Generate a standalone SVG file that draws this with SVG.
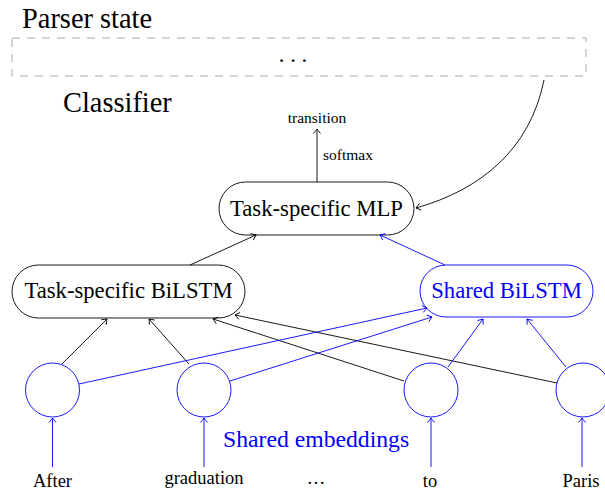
<svg xmlns="http://www.w3.org/2000/svg" width="605" height="490" viewBox="0 0 605 490">
<style>
text{font-family:"Liberation Serif","Times New Roman",serif;fill:#000}
.big{font-size:22.7px}
.head{font-size:28.4px}
.mid{font-size:18.5px}
.sm{font-size:15.5px}
.blue{fill:#0000ff}
.k{stroke:#000;stroke-width:0.9;fill:none}
.b{stroke:#0000ff;stroke-width:0.9;fill:none}
.node{fill:#fff;stroke:#000;stroke-width:0.9}
.bnode{fill:#fff;stroke:#0000ff;stroke-width:0.9}
.ka{marker-end:url(#ah)}
.ba{marker-end:url(#ahb)}
</style>
<defs>
<marker id="ah" markerUnits="userSpaceOnUse" markerWidth="12" markerHeight="12" viewBox="-6 -6 12 12" refX="0" refY="0" orient="auto">
<path d="M-4.5,-3.5 Q-1.2,-0.8 0,0 Q-1.2,0.8 -4.5,3.5" fill="none" stroke="#000" stroke-width="0.9"/>
</marker>
<marker id="ahb" markerUnits="userSpaceOnUse" markerWidth="12" markerHeight="12" viewBox="-6 -6 12 12" refX="0" refY="0" orient="auto">
<path d="M-4.5,-3.5 Q-1.2,-0.8 0,0 Q-1.2,0.8 -4.5,3.5" fill="none" stroke="#0000ff" stroke-width="0.9"/>
</marker>
</defs>
<g id="parser-state">
<text class="head" x="22" y="28">Parser state</text>
<rect x="12" y="38" width="574" height="38" fill="none" stroke="#aaaaaa" stroke-width="1" stroke-dasharray="8 7"/>
<text class="big" x="293" y="62" text-anchor="middle">. . .</text>
</g>
<g id="classifier-label">
<text class="head" x="63" y="112">Classifier</text>
</g>
<g id="transition-label">
<text class="sm" x="317" y="123" text-anchor="middle">transition</text>
</g>
<g id="mlp">
<rect class="node" x="219" y="182" width="195" height="53" rx="26.5"/>
<text class="big" x="316.5" y="216" text-anchor="middle">Task-specific MLP</text>
</g>
<g id="task-bilstm">
<rect class="node" x="12" y="265" width="233" height="53" rx="26.5"/>
<text class="big" x="128.5" y="298" text-anchor="middle">Task-specific BiLSTM</text>
</g>
<g id="shared-bilstm">
<rect class="bnode" x="420" y="265" width="173" height="52" rx="26"/>
<text class="big blue" x="506.5" y="298" text-anchor="middle">Shared BiLSTM</text>
</g>
<g id="emb-after"><circle class="bnode" cx="52.5" cy="390" r="27"/></g>
<g id="emb-graduation"><circle class="bnode" cx="204" cy="390" r="27"/></g>
<g id="emb-to"><circle class="bnode" cx="431" cy="390" r="27"/></g>
<g id="emb-paris"><circle class="bnode" cx="583" cy="390" r="27"/></g>
<g id="shared-emb-label">
<text class="blue" style="font-size:23.7px" x="223" y="447">Shared embeddings</text>
</g>
<g id="words">
<text class="mid" x="52.5" y="487" text-anchor="middle">After</text>
<text class="mid" x="204" y="484" text-anchor="middle">graduation</text>
<text class="mid" x="316" y="484" text-anchor="middle">…</text>
<text class="mid" x="430" y="487" text-anchor="middle">to</text>
<text class="mid" x="581" y="487" text-anchor="middle">Paris</text>
</g>
<g id="connectors">
<line class="k ka" x1="317" y1="182" x2="317" y2="129"/>
<text class="sm" x="323" y="160">softmax</text>
<path class="k ka" d="M544,80 C530,150 480,190 416,208"/>
<line class="k ka" x1="190" y1="265" x2="256" y2="235"/>
<line class="b ba" x1="445" y1="265" x2="380" y2="235"/>
<line class="k ka" x1="62" y1="364" x2="107" y2="319"/>
<line class="k ka" x1="189" y1="364" x2="149" y2="319"/>
<line class="k ka" x1="404" y1="381" x2="213" y2="319"/>
<line class="k ka" x1="557" y1="383" x2="235" y2="315"/>
<line class="b ba" x1="79" y1="384" x2="427" y2="308"/>
<line class="b ba" x1="230" y1="381" x2="432" y2="317"/>
<line class="b ba" x1="448" y1="367" x2="483" y2="319"/>
<line class="b ba" x1="566" y1="367" x2="527" y2="319"/>
<line class="b ba" x1="52.5" y1="467" x2="52.5" y2="418"/>
<line class="b ba" x1="204" y1="467" x2="204" y2="418"/>
<line class="b ba" x1="431" y1="467" x2="431" y2="418"/>
<line class="b ba" x1="582" y1="467" x2="582" y2="418"/>
</g>
</svg>
